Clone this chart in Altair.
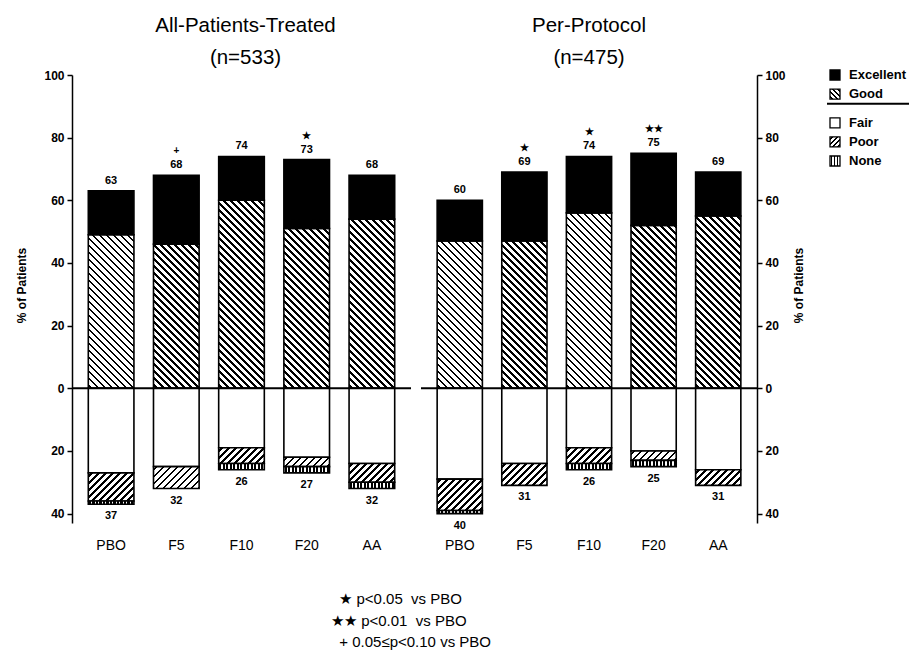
import altair as alt

# ---------------- data ----------------
groups = ["PBO", "F5", "F10", "F20", "AA"]

apt_excellent = [14, 22, 14, 22, 14]
apt_good = [49, 46, 60, 51, 54]
apt_fair = [27, 25, 19, 22, 24]
apt_poor = [9, 7, 5, 3, 6]
apt_none = [1, 0, 2, 2, 2]
apt_pos_total = [63, 68, 74, 73, 68]
apt_neg_total = [37, 32, 26, 27, 32]
apt_sig = ["", "+", "", "★", ""]

pp_excellent = [13, 22, 18, 23, 14]
pp_good = [47, 47, 56, 52, 55]
pp_fair = [29, 24, 19, 20, 26]
pp_poor = [10, 7, 5, 3, 5]
pp_none = [1, 0, 2, 2, 0]
pp_pos_total = [60, 69, 74, 75, 69]
pp_neg_total = [40, 31, 26, 25, 31]
pp_sig = ["", "★", "★", "★★", ""]

legend_items = ["Excellent", "Good", "Fair", "Poor", "None"]
NB = "\u00a0"
ZW = "\u200b"
footnotes = [ZW + NB * 2 + "★ p<0.05" + NB * 2 + "vs PBO",
             "★★ p<0.01" + NB * 2 + "vs PBO",
             ZW + NB * 2 + "+ 0.05≤p<0.10 vs PBO"]
y_ticks = [-40, -20, 0, 20, 40, 60, 80, 100]

# ---------------- layout / style ----------------
Y_MIN, Y_MAX = -43, 100
PLOT_H = 448
W_LEFT, W_RIGHT = 339, 336
PAD_INNER, PAD_OUTER = 0.3, 0.25
FONT = "Liberation Sans"
style_of = {"Excellent": "solid", "Good": "back", "Fair": "open", "Poor": "fwd", "None": "dense"}


def stripes(w, h, kind, period=7.0, ink=0.38):
    """Linear gradient with hard stops that imitates hatching."""
    w = max(float(w), 1.0)
    h = max(float(h), 1.0)
    if kind == "vert":
        x1, y1, x2, y2 = 0, 0, 1, 0
        span = w
    else:
        k = (w + h) / (w * w + h * h)
        if kind == "back":      # "\" lines
            x1, y1, x2, y2 = 0, 1, w * k, 1 - h * k
        else:                   # "/" lines
            x1, y1, x2, y2 = 0, 0, w * k, h * k
        span = w + h
    n = span / period
    stops = [{"offset": 0, "color": "white"}]
    i = 0
    while True:
        a = (i + (1 - ink) / 2) / n
        b = (i + (1 + ink) / 2) / n
        if a >= 1:
            break
        b = min(b, 1)
        stops += [{"offset": round(a, 5), "color": "white"},
                  {"offset": round(a, 5), "color": "black"},
                  {"offset": round(b, 5), "color": "black"},
                  {"offset": round(b, 5), "color": "white"}]
        i += 1
    stops.append({"offset": 1, "color": "white"})
    return {"gradient": "linear", "x1": round(x1, 5), "y1": round(y1, 5),
            "x2": round(x2, 5), "y2": round(y2, 5), "stops": stops}


def fill_for(style, w, h, small=False):
    if style == "solid":
        return "black"
    if style == "open":
        return "white"
    if style == "back":
        return stripes(w, h, "back", period=5 if small else 7, ink=0.3 if small else 0.38)
    if style == "fwd":
        return stripes(w, h, "fwd", period=5 if small else 7, ink=0.3 if small else 0.38)
    return stripes(w, h, "vert", period=3 if small else 3.5, ink=0.5 if small else 0.6)


def bar_rows(exc, good, fair, poor, none, W):
    step = W / (len(groups) - PAD_INNER + 2 * PAD_OUTER)
    bw = step * (1 - PAD_INNER)
    ppu = PLOT_H / (Y_MAX - Y_MIN)
    rows = []
    for i, g in enumerate(groups):
        segs = [
            ("Good", 0, good[i]),
            ("Excellent", good[i], good[i] + exc[i]),
            ("Fair", 0, -fair[i]),
            ("Poor", -fair[i], -(fair[i] + poor[i])),
            ("None", -(fair[i] + poor[i]), -(fair[i] + poor[i] + none[i])),
        ]
        for name, a, b in segs:
            if a == b:
                continue
            rows.append({"group": g, "segment": name, "y0": a, "y1": b,
                         "fill": fill_for(style_of[name], bw, abs(b - a) * ppu)})
    return rows


def y_axis(orient, title_pad):
    return alt.Axis(orient=orient, values=y_ticks, labelExpr="abs(datum.value)",
                    title="% of Patients", grid=False, domainColor="black", domainWidth=1.5,
                    tickColor="black", tickWidth=1.5, tickSize=5, labelPadding=3,
                    labelFontSize=12, labelFontWeight="bold", labelColor="black",
                    titleFontSize=12, titleFontWeight="bold", titleColor="black",
                    titlePadding=title_pad, titleAngle=270, titleY=210, labelFlush=False)


def title_params(lines, dx=0):
    return alt.TitleParams(lines, fontSize=20.5, fontWeight="normal", color="black",
                           lineHeight=32, offset=1, anchor="middle", font=FONT, dx=dx)


def panel(title_lines, exc, good, fair, poor, none, pos, neg, sig, W, orient, tpad, tdx):
    xs = alt.Scale(domain=groups, paddingInner=PAD_INNER, paddingOuter=PAD_OUTER)
    xa = alt.Axis(title=None, domain=False, ticks=False, labelAngle=0, labelPadding=15,
                  labelFontSize=14, labelColor="black")
    ys = alt.Scale(domain=[Y_MIN, Y_MAX], nice=False, zero=False)
    ya = y_axis(orient, tpad)

    def X():
        return alt.X("group:N", sort=groups, scale=xs, axis=xa)

    bars = alt.Chart(alt.Data(values=bar_rows(exc, good, fair, poor, none, W))).mark_bar(
        stroke="black", strokeWidth=1.6, strokeJoin="miter"
    ).encode(x=X(), y=alt.Y("y0:Q", scale=ys, axis=ya), y2="y1:Q",
             fill=alt.Fill("fill:N", scale=None))

    zero = alt.Chart(alt.Data(values=[{"z": 0}])).mark_rule(color="black", strokeWidth=2).encode(
        y=alt.Y("z:Q", scale=ys, axis=ya))

    pos_rows = [{"group": g, "v": pos[i], "txt": str(pos[i]), "sig": sig[i]} for i, g in enumerate(groups)]
    neg_rows = [{"group": g, "v": -neg[i], "txt": str(neg[i])} for i, g in enumerate(groups)]

    pos_txt = alt.Chart(alt.Data(values=pos_rows)).mark_text(
        baseline="bottom", dy=-5, fontSize=11, fontWeight="bold", color="black"
    ).encode(x=X(), y=alt.Y("v:Q", scale=ys, axis=ya), text="txt:N")

    sig_txt = alt.Chart(alt.Data(values=pos_rows)).mark_text(
        baseline="bottom", dy=-19, fontSize=10, fontWeight="bold", color="black"
    ).encode(x=X(), y=alt.Y("v:Q", scale=ys, axis=ya), text="sig:N")

    neg_txt = alt.Chart(alt.Data(values=neg_rows)).mark_text(
        baseline="top", dy=6, fontSize=11, fontWeight="bold", color="black"
    ).encode(x=X(), y=alt.Y("v:Q", scale=ys, axis=ya), text="txt:N")

    return alt.layer(bars, zero, pos_txt, sig_txt, neg_txt).properties(
        width=W, height=PLOT_H, title=title_params(title_lines, tdx))


left = panel(["All-Patients-Treated", "(n=533)"], apt_excellent, apt_good, apt_fair, apt_poor,
             apt_none, apt_pos_total, apt_neg_total, apt_sig, W_LEFT, "left", 15, 4)
right = panel(["Per-Protocol", "(n=475)"], pp_excellent, pp_good, pp_fair, pp_poor,
              pp_none, pp_pos_total, pp_neg_total, pp_sig, W_RIGHT, "right", 20, 0)

# ---------------- custom legend ----------------
leg_slots = ["Excellent", "_a", "Good", "_b", "_c", "Fair", "_d", "Poor", "_e", "None"]
leg_rows = [{"item": it, "fill": fill_for(style_of[it], 10, 10, small=True)} for it in legend_items]
ly = alt.Scale(domain=leg_slots, type="point", padding=0)
leg_sq = alt.Chart(alt.Data(values=leg_rows)).mark_square(
    size=100, stroke="black", strokeWidth=1.3, opacity=1
).encode(x=alt.value(10), y=alt.Y("item:N", scale=ly, axis=None),
         fill=alt.Fill("fill:N", scale=None))
leg_tx = alt.Chart(alt.Data(values=leg_rows)).mark_text(
    align="left", fontSize=13, fontWeight="bold", color="black"
).encode(x=alt.value(24), y=alt.Y("item:N", scale=ly, axis=None), text="item:N")
leg_line = alt.Chart(alt.Data(values=[{"item": "_b"}])).mark_rule(
    color="black", strokeWidth=2
).encode(y=alt.Y("item:N", scale=ly, axis=None), x=alt.value(2), x2=alt.value(84))
legend = alt.layer(leg_line, leg_sq, leg_tx).properties(
    width=84, height=86, title=title_params([" ", " "]))

chart = alt.hconcat(
    alt.hconcat(left, right, spacing=8), legend, spacing=20
).properties(
    title=alt.TitleParams(footnotes, orient="bottom", anchor="start", align="left", dx=315,
                          offset=40, fontSize=15, fontWeight="normal", lineHeight=21.5,
                          color="black", font=FONT),
    padding={"left": 7, "top": 5, "right": 0, "bottom": 2},
).configure(font=FONT).configure_view(stroke=None)

chart.save("out.html", embed_options={"renderer": "svg", "actions": False})
